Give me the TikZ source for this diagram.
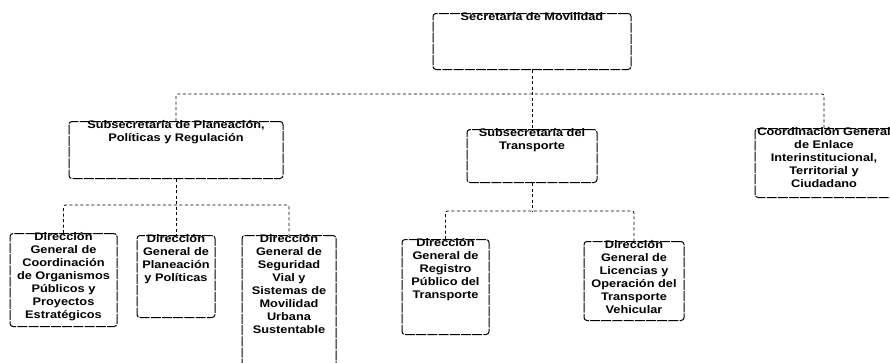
\documentclass[tikz,border=0pt]{standalone}
\usepackage{fontspec}
\newfontfamily\orgfont[FakeStretch=1.16]{Liberation Sans}
\begin{document}
\begin{tikzpicture}[x=1pt,y=-1pt,
  box/.style={draw=black, line width=1pt, rounded corners=3pt,
    dash pattern=on 10pt off 1.2pt, inner sep=0pt, anchor=north},
  txt/.style={inner sep=0pt, anchor=north, align=center, yshift=1pt,
    font=\orgfont\bfseries\fontsize{11}{13}\selectfont},
  conn/.style={draw=black, line width=0.8pt, dash pattern=on 3pt off 2.5pt,
    rounded corners=2pt}]
\useasboundingbox (0,0) rectangle (890,362);
\clip (0,0) rectangle (890,362);
\fill[white] (0,0) rectangle (890,362);
% boxes
\node[box, minimum width=198pt, minimum height=56pt] (sec) at (532,13) {};
\node[txt] (sect) at (sec.north) {Secretaría de Movilidad};
\node[box, minimum width=214pt, minimum height=57pt] (plan) at (176,121) {};
\node[txt] (plant) at (plan.north) {Subsecretaría de Planeación,\\Políticas y Regulación};
\node[box, minimum width=130pt, minimum height=53pt] (trans) at (532,129) {};
\node[txt] (transt) at (trans.north) {Subsecretaría del\\Transporte};
\node[box, minimum width=138pt, minimum height=69pt] (coord) at (824,128) {};
\node[txt] (coordt) at (coord.north) {Coordinación General\\de Enlace\\Interinstitucional,\\Territorial y\\Ciudadano};
\node[box, minimum width=107pt, minimum height=93pt] (b1) at (63.5,233) {};
\node[txt] (b1t) at (b1.north) {Dirección\\General de\\Coordinación\\de Organismos\\Públicos y\\Proyectos\\Estratégicos};
\node[box, minimum width=78pt, minimum height=82pt] (b2) at (176,235) {};
\node[txt] (b2t) at (b2.north) {Dirección\\General de\\Planeación\\y Políticas};
\node[box, minimum width=94pt, minimum height=140pt] (b3) at (289,235) {};
\node[txt] (b3t) at (b3.north) {Dirección\\General de\\Seguridad\\Vial y\\Sistemas de\\Movilidad\\Urbana\\Sustentable};
\node[box, minimum width=87pt, minimum height=95pt] (b4) at (445.5,239) {};
\node[txt] (b4t) at (b4.north) {Dirección\\General de\\Registro\\Público del\\Transporte};
\node[box, minimum width=100pt, minimum height=79pt] (b5) at (634,241) {};
\node[txt] (b5t) at (b5.north) {Dirección\\General de\\Licencias y\\Operación del\\Transporte\\Vehicular};
% connectors
\coordinate (bus1) at (532,94);
\coordinate (bus2) at (176,205);
\coordinate (bus3) at (532,211);
\draw[conn] (sec.south) -- (trans.north);
\draw[conn] (plan.north) |- (bus1) -| (coord.north);
\draw[conn] (plan.south) -- (b2.north);
\draw[conn] (b1.north) |- (bus2) -| (b3.north);
\draw[conn] (trans.south) -- (bus3);
\draw[conn] (b4.north) |- (bus3) -| (b5.north);
\end{tikzpicture}
\end{document}
